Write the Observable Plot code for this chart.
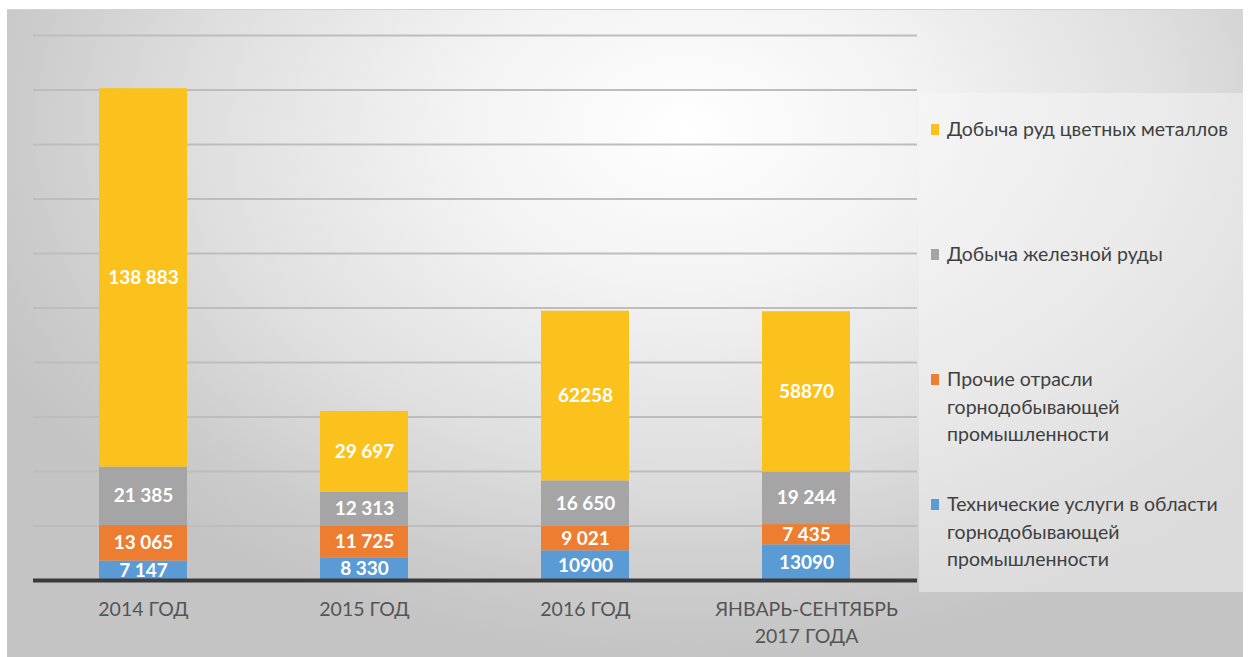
<!DOCTYPE html>
<html><head><meta charset="utf-8">
<script src="https://cdn.jsdelivr.net/npm/d3@7"></script>
<script src="https://cdn.jsdelivr.net/npm/@observablehq/plot@0.6"></script>
<style>
html,body{margin:0;padding:0;background:#fff;}
#wrap{position:relative;width:1259px;height:657px;overflow:hidden;}
#bg{position:absolute;left:7px;top:9px;width:1236px;height:660px;
 background:radial-gradient(ellipse 62% 80% at 55% 18%, #ffffff 0%, #f3f3f3 30%, #e0e0e0 62%, #cbcbcb 88%, #c4c4c4 100%);
 border-top:1px solid #d4d4d4;}
#legend{position:absolute;left:919px;top:93px;width:325px;height:499px;
 background:linear-gradient(180deg, rgba(248,248,248,0.45), rgba(238,238,238,0.55));
 font-family:Lato,sans-serif;font-size:19.5px;color:#404040;}
.item{position:absolute;left:12px;line-height:27.5px;}
.sw{position:absolute;left:0;width:8px;height:11px;top:9px;}
.txt{position:absolute;left:16px;white-space:nowrap;}
#chart{position:absolute;left:0;top:0;}
</style></head>
<body><div id="wrap"><div id="bg"></div><div id="legend"></div><div id="chart"></div></div>
<script>
const categories = ["2014 ГОД", "2015 ГОД", "2016 ГОД", "ЯНВАРЬ-СЕНТЯБРЬ\n2017 ГОДА"];
const series = ["Технические услуги в области горнодобывающей промышленности",
                "Прочие отрасли горнодобывающей промышленности",
                "Добыча железной руды",
                "Добыча руд цветных металлов"];
const legendLines = [["Технические услуги в области","горнодобывающей","промышленности"],
                     ["Прочие отрасли","горнодобывающей","промышленности"],
                     ["Добыча железной руды"],
                     ["Добыча руд цветных металлов"]];
const colors = ["#5B9BD5", "#ED7D31", "#A5A5A5", "#FBC21E"];
const techServices = [7147, 8330, 10900, 13090];
const otherMining = [13065, 11725, 9021, 7435];
const ironOre = [21385, 12313, 16650, 19244];
const nonFerrous = [138883, 29697, 62258, 58870];
const techLabels = ["7 147", "8 330", "10900", "13090"];
const otherLabels = ["13 065", "11 725", "9 021", "7 435"];
const ironLabels = ["21 385", "12 313", "16 650", "19 244"];
const nonFerrousLabels = ["138 883", "29 697", "62258", "58870"];
const yTicks = [0,20000,40000,60000,80000,100000,120000,140000,160000,180000,200000];

const values = [techServices, otherMining, ironOre, nonFerrous];
const labels = [techLabels, otherLabels, ironLabels, nonFerrousLabels];
const rows = [];
categories.forEach((c, i) => {
  let base = 0;
  series.forEach((s, j) => {
    const v = values[j][i];
    rows.push({cat: c, series: s, value: v, label: labels[j][i], y1: base, y2: base + v, mid: base + v / 2});
    base += v;
  });
});

const plot = Plot.plot({
  width: 1259, height: 657,
  marginLeft: 33, marginRight: 342, marginTop: 35, marginBottom: 77,
  style: {background: "transparent", fontFamily: "Lato, sans-serif"},
  x: {domain: categories, paddingInner: 0.6, paddingOuter: 0.3, label: null},
  y: {domain: [0, 200000], label: null},
  color: {domain: series, range: colors},
  marks: [
    Plot.gridY(yTicks.slice(1), {stroke: "#bdbdbd", strokeOpacity: 1, strokeWidth: 2}),
    Plot.rectY(rows, {x: "cat", y1: "y1", y2: "y2", fill: "series"}),
    Plot.ruleY([0], {stroke: "#3a3a3a", strokeWidth: 4}),
    Plot.text(rows, {x: "cat", y: "mid", text: "label", fill: "white", fontWeight: "bold", fontSize: 19, fontFamily: "Lato, sans-serif"}),
    Plot.axisX({tickSize: 0, tickPadding: 16, fontSize: 19.5, color: "#555555", lineHeight: 1.4, textAnchor: "middle"}),
    Plot.axisY({ticks: [], tickSize: 0, label: null})
  ]
});
document.getElementById("chart").appendChild(plot);

const lg = document.getElementById("legend");
const itemTops = [397, 272, 147, 22];
[3,2,1,0].forEach(j => {
  const d = document.createElement("div");
  d.className = "item";
  d.style.top = (itemTops[j]) + "px";
  d.innerHTML = `<div class="sw" style="background:${colors[j]}"></div>` +
    legendLines[j].map((t, k) => `<div class="txt" style="top:${k*27.5}px">${t}</div>`).join("");
  lg.appendChild(d);
});
</script></body></html>
